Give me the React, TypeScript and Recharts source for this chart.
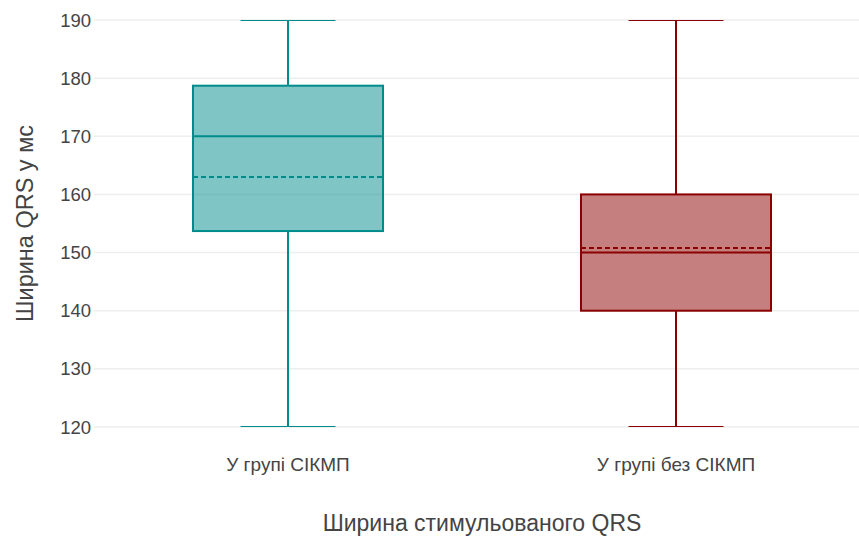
import React from 'react';
import { ComposedChart, Bar, XAxis, YAxis, CartesianGrid, Label } from 'recharts';

// Box-plot summary of stimulated QRS width per group
const groups = ['У групі СІКМП', 'У групі без СІКМП'];
const lowerWhisker = [120, 120];
const lowerQuartile = [153.7, 140];
const medians = [170, 150];
const upperQuartile = [178.7, 160];
const upperWhisker = [190, 190];
const means = [163, 150.8];
const yTicks = [120, 130, 140, 150, 160, 170, 180, 190];

const palette = ['#008b8b', '#8b0000'];
const FONT = '"Liberation Sans", Arial, sans-serif';
const TEXT = '#444444';

const rows = groups.map((name, i) => ({
  name,
  span: [lowerWhisker[i], upperWhisker[i]],
  q1: lowerQuartile[i],
  median: medians[i],
  q3: upperQuartile[i],
  mean: means[i],
}));

// The bar spans whisker-to-whisker; the inner marks are placed on the same scale.
function BoxShape(props: any) {
  const { x, y, width, height, payload, index } = props;
  const [lo, hi] = payload.span;
  const toY = (v: number) => y + ((hi - v) / (hi - lo)) * height;
  const color = palette[index % palette.length];
  const cx = x + width / 2;
  const cap = width / 4;
  const yQ1 = toY(payload.q1);
  const yQ3 = toY(payload.q3);
  const yMed = toY(payload.median);
  const yMean = toY(payload.mean);
  const yMin = toY(lo);
  const yMax = toY(hi);
  return (
    <g>
      <line x1={cx} x2={cx} y1={yMax} y2={yQ3} stroke={color} strokeWidth={2} />
      <line x1={cx} x2={cx} y1={yQ1} y2={yMin} stroke={color} strokeWidth={2} />
      <line x1={cx - cap} x2={cx + cap} y1={yMax} y2={yMax} stroke={color} strokeWidth={2} />
      <line x1={cx - cap} x2={cx + cap} y1={yMin} y2={yMin} stroke={color} strokeWidth={2} />
      <rect
        x={x}
        y={yQ3}
        width={width}
        height={yQ1 - yQ3}
        fill={color}
        fillOpacity={0.5}
        stroke={color}
        strokeWidth={2}
      />
      <line x1={x} x2={x + width} y1={yMed} y2={yMed} stroke={color} strokeWidth={2} />
      <line
        x1={x}
        x2={x + width}
        y1={yMean}
        y2={yMean}
        stroke={color}
        strokeWidth={2}
        strokeDasharray="5 3"
      />
    </g>
  );
}

export default function App() {
  return (
    <div
      style={{
        position: 'absolute',
        left: 0,
        top: 0,
        width: 859,
        height: 538,
        overflow: 'hidden',
        background: '#ffffff',
      }}
    >
      <ComposedChart
        width={880}
        height={538}
        data={rows}
        margin={{ top: 20, right: 10, bottom: 0, left: 0 }}
        style={{ fontFamily: FONT }}
      >
        <CartesianGrid horizontal vertical={false} stroke="#eeeeee" strokeWidth={1.5} />
        <XAxis
          dataKey="name"
          axisLine={false}
          tickLine={false}
          tickSize={0}
          tickMargin={31}
          height={111}
          tick={{ fill: TEXT, fontSize: 19, fontFamily: FONT }}
          interval={0}
        >
          <Label
            content={(p: any) => {
              const vb = p.viewBox;
              return (
                <text
                  x={vb.x + vb.width / 2}
                  y={531}
                  textAnchor="middle"
                  fill={TEXT}
                  fontSize={23}
                  fontFamily={FONT}
                >
                  Ширина стимульованого QRS
                </text>
              );
            }}
          />
        </XAxis>
        <YAxis
          type="number"
          domain={[120, 190]}
          ticks={yTicks}
          width={94}
          axisLine={false}
          tickLine={false}
          tickSize={0}
          tickMargin={3}
          tick={{ fill: TEXT, fontSize: 18.5, fontFamily: FONT }}
          allowDataOverflow
        >
          <Label
            content={(p: any) => {
              const vb = p.viewBox;
              const cx = 33;
              const cy = vb.y + vb.height / 2;
              return (
                <text
                  x={cx}
                  y={cy}
                  textAnchor="middle"
                  transform={`rotate(-90 ${cx} ${cy})`}
                  fill={TEXT}
                  fontSize={23.5}
                  fontFamily={FONT}
                >
                  Ширина QRS у мс
                </text>
              );
            }}
          />
        </YAxis>
        <Bar
          dataKey="span"
          barSize={190}
          shape={<BoxShape />}
          isAnimationActive={false}
        />
      </ComposedChart>
    </div>
  );
}
